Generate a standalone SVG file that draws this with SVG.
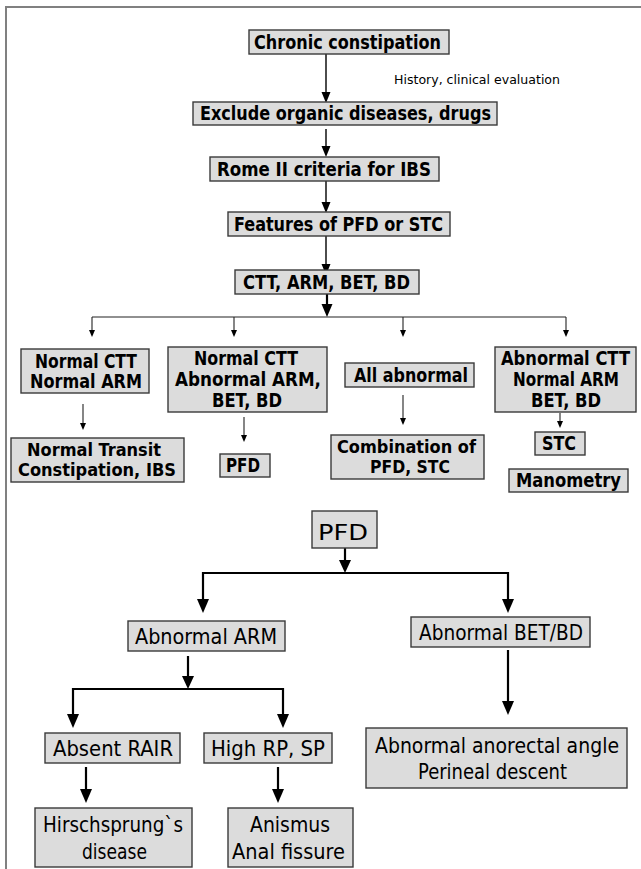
<svg xmlns="http://www.w3.org/2000/svg" width="641" height="869" viewBox="0 0 641 869">
<style>
.bx{fill:#dcdcdc;stroke:#3a3a3a;stroke-width:1.4}
.tb{font-family:"DejaVu Sans Condensed","DejaVu Sans",sans-serif;font-weight:bold;font-size:19px;fill:#000}
.t2{font-size:17px}
.tr{font-family:"DejaVu Sans Condensed","DejaVu Sans","Liberation Sans",sans-serif;font-stretch:condensed;font-size:21px;fill:#000}
.ts{font-family:"DejaVu Sans","Liberation Sans",sans-serif;font-size:12px;fill:#000}
.c1{stroke:#000;stroke-width:1.4;fill:none}
.c0{stroke:#222;stroke-width:1.1;fill:none}
.c2{stroke:#000;stroke-width:2.2;fill:none}
.h1{fill:#000}
</style>
<rect x="0" y="0" width="641" height="869" fill="#fff"/>
<g id="frame">
<path d="M6 869 V7 H641" fill="none" stroke="#808080" stroke-width="2"/>
</g>
<g id="connectors">
<line class="c1" x1="326" y1="54" x2="326" y2="94"/>
<polygon class="h1" points="321.5,92 330.5,92 326,103"/>
<line class="c1" x1="326" y1="129" x2="326" y2="148"/>
<polygon class="h1" points="321.5,146 330.5,146 326,157"/>
<line class="c1" x1="326" y1="181" x2="326" y2="204"/>
<polygon class="h1" points="321.5,202 330.5,202 326,213"/>
<line class="c1" x1="326" y1="236" x2="326" y2="266"/>
<polygon class="h1" points="321.5,264 330.5,264 326,275"/>
<line class="c2" x1="327" y1="294" x2="327" y2="306"/>
<polygon class="h1" points="321.5,304 332.5,304 327,317"/>
<line class="c0" x1="92" y1="317" x2="566" y2="317"/>
<line class="c0" x1="92" y1="317" x2="92" y2="331"/>
<polygon class="h1" points="89,330 95,330 92,337"/>
<line class="c0" x1="234" y1="317" x2="234" y2="331"/>
<polygon class="h1" points="231,330 237,330 234,337"/>
<line class="c0" x1="403" y1="317" x2="403" y2="331"/>
<polygon class="h1" points="400,330 406,330 403,337"/>
<line class="c0" x1="566" y1="317" x2="566" y2="331"/>
<polygon class="h1" points="563,330 569,330 566,337"/>
<line class="c0" x1="83" y1="404" x2="83" y2="424"/>
<polygon class="h1" points="80,423 86,423 83,430"/>
<line class="c0" x1="244" y1="417" x2="244" y2="436"/>
<polygon class="h1" points="241,435 247,435 244,442"/>
<line class="c0" x1="403" y1="395" x2="403" y2="419"/>
<polygon class="h1" points="400,418 406,418 403,425"/>
<line class="c0" x1="560" y1="413" x2="560" y2="422"/>
<polygon class="h1" points="557,421 563,421 560,428"/>
<line class="c2" x1="345" y1="548" x2="345" y2="562"/>
<polygon class="h1" points="339,560 351,560 345,573"/>
<line class="c2" x1="203" y1="573" x2="508" y2="573"/>
<line class="c2" x1="203" y1="572" x2="203" y2="602"/>
<polygon class="h1" points="197,599 209,599 203,613"/>
<line class="c2" x1="508" y1="572" x2="508" y2="602"/>
<polygon class="h1" points="502,599 514,599 508,613"/>
<line class="c2" x1="188" y1="656" x2="188" y2="678"/>
<polygon class="h1" points="182,676 194,676 188,689"/>
<line class="c2" x1="73" y1="689" x2="283" y2="689"/>
<line class="c2" x1="73" y1="688" x2="73" y2="717"/>
<polygon class="h1" points="67,714 79,714 73,728"/>
<line class="c2" x1="283" y1="688" x2="283" y2="717"/>
<polygon class="h1" points="277,714 289,714 283,728"/>
<line class="c2" x1="508" y1="650" x2="508" y2="704"/>
<polygon class="h1" points="502,701 514,701 508,715"/>
<line class="c2" x1="86" y1="767" x2="86" y2="792"/>
<polygon class="h1" points="80,789 92,789 86,803"/>
<line class="c2" x1="278" y1="767" x2="278" y2="792"/>
<polygon class="h1" points="272,789 284,789 278,803"/>
</g>
<g id="n-chronic"><rect class="bx" x="249" y="30" width="200" height="24"/><text class="tb" x="254" y="49" textLength="187" lengthAdjust="spacingAndGlyphs">Chronic constipation</text></g>
<g id="n-history"><text class="ts" x="394" y="84" textLength="166" lengthAdjust="spacingAndGlyphs">History, clinical evaluation</text></g>
<g id="n-exclude"><rect class="bx" x="193" y="102" width="304" height="23"/><text class="tb" x="200" y="120" textLength="291" lengthAdjust="spacingAndGlyphs">Exclude organic diseases, drugs</text></g>
<g id="n-rome"><rect class="bx" x="210" y="157" width="229" height="24"/><text class="tb" x="217" y="176" textLength="214" lengthAdjust="spacingAndGlyphs">Rome II criteria for IBS</text></g>
<g id="n-features"><rect class="bx" x="228" y="212" width="222" height="24"/><text class="tb" x="234" y="231" textLength="209" lengthAdjust="spacingAndGlyphs">Features of PFD or STC</text></g>
<g id="n-tests"><rect class="bx" x="235" y="270" width="184" height="24"/><text class="tb" x="243" y="289" textLength="167" lengthAdjust="spacingAndGlyphs">CTT, ARM, BET, BD</text></g>
<g id="n-normal"><rect class="bx" x="21" y="349" width="128" height="44"/><text class="tb" x="35" y="368" textLength="102" lengthAdjust="spacingAndGlyphs">Normal CTT</text><text class="tb" x="30" y="388" textLength="112" lengthAdjust="spacingAndGlyphs">Normal ARM</text></g>
<g id="n-abarm"><rect class="bx" x="168" y="347" width="159" height="65"/><text class="tb" x="194" y="365" textLength="104" lengthAdjust="spacingAndGlyphs">Normal CTT</text><text class="tb" x="175" y="386" textLength="146" lengthAdjust="spacingAndGlyphs">Abnormal ARM,</text><text class="tb" x="212" y="407" textLength="70" lengthAdjust="spacingAndGlyphs">BET, BD</text></g>
<g id="n-allab"><rect class="bx" x="345" y="363" width="129" height="24"/><text class="tb" x="354" y="382" textLength="114" lengthAdjust="spacingAndGlyphs">All abnormal</text></g>
<g id="n-abctt"><rect class="bx" x="495" y="347" width="141" height="65"/><text class="tb" x="501" y="365" textLength="129" lengthAdjust="spacingAndGlyphs">Abnormal CTT</text><text class="tb" x="513" y="386" textLength="106" lengthAdjust="spacingAndGlyphs">Normal ARM</text><text class="tb" x="531" y="407" textLength="70" lengthAdjust="spacingAndGlyphs">BET, BD</text></g>
<g id="n-ntc"><rect class="bx" x="11" y="438" width="173" height="44"/><text class="tb t2" x="27" y="456" textLength="134" lengthAdjust="spacingAndGlyphs">Normal Transit</text><text class="tb t2" x="18" y="476" textLength="158" lengthAdjust="spacingAndGlyphs">Constipation, IBS</text></g>
<g id="n-pfd1"><rect class="bx" x="220" y="454" width="50" height="23"/><text class="tb" x="226" y="472" textLength="34" lengthAdjust="spacingAndGlyphs">PFD</text></g>
<g id="n-comb"><rect class="bx" x="331" y="435" width="153" height="44"/><text class="tb t2" x="337" y="453" textLength="139" lengthAdjust="spacingAndGlyphs">Combination of</text><text class="tb t2" x="370" y="473" textLength="80" lengthAdjust="spacingAndGlyphs">PFD, STC</text></g>
<g id="n-stc"><rect class="bx" x="535" y="432" width="50" height="23"/><text class="tb" x="542" y="450" textLength="34" lengthAdjust="spacingAndGlyphs">STC</text></g>
<g id="n-mano"><rect class="bx" x="509" y="469" width="119" height="23"/><text class="tb" x="516" y="487" textLength="105" lengthAdjust="spacingAndGlyphs">Manometry</text></g>
<g id="n-pfd2"><rect class="bx" x="312" y="511" width="65" height="37"/><text class="tr" x="318" y="540" font-size="30" textLength="50" lengthAdjust="spacingAndGlyphs">PFD</text></g>
<g id="n-arm"><rect class="bx" x="128" y="621" width="157" height="30"/><text class="tr" x="135" y="644" textLength="142" lengthAdjust="spacingAndGlyphs">Abnormal ARM</text></g>
<g id="n-bet"><rect class="bx" x="411" y="617" width="179" height="30"/><text class="tr" x="419" y="640" textLength="164" lengthAdjust="spacingAndGlyphs">Abnormal BET/BD</text></g>
<g id="n-rair"><rect class="bx" x="45" y="733" width="135" height="30"/><text class="tr" x="53" y="756" textLength="120" lengthAdjust="spacingAndGlyphs">Absent RAIR</text></g>
<g id="n-high"><rect class="bx" x="204" y="733" width="128" height="30"/><text class="tr" x="211" y="756" textLength="114" lengthAdjust="spacingAndGlyphs">High RP, SP</text></g>
<g id="n-angle"><rect class="bx" x="366" y="728" width="261" height="60"/><text class="tr" x="375" y="753" font-size="19.5" textLength="244" lengthAdjust="spacingAndGlyphs">Abnormal anorectal angle</text><text class="tr" x="418" y="779" font-size="19.5" textLength="149" lengthAdjust="spacingAndGlyphs">Perineal descent</text></g>
<g id="n-hirsch"><rect class="bx" x="35" y="808" width="157" height="59"/><text class="tr" x="43" y="832" textLength="140" lengthAdjust="spacingAndGlyphs">Hirschsprung`s</text><text class="tr" x="82" y="859" textLength="65" lengthAdjust="spacingAndGlyphs">disease</text></g>
<g id="n-anismus"><rect class="bx" x="228" y="808" width="125" height="59"/><text class="tr" x="250" y="832" textLength="80" lengthAdjust="spacingAndGlyphs">Anismus</text><text class="tr" x="232" y="859" textLength="113" lengthAdjust="spacingAndGlyphs">Anal fissure</text></g>
</svg>
